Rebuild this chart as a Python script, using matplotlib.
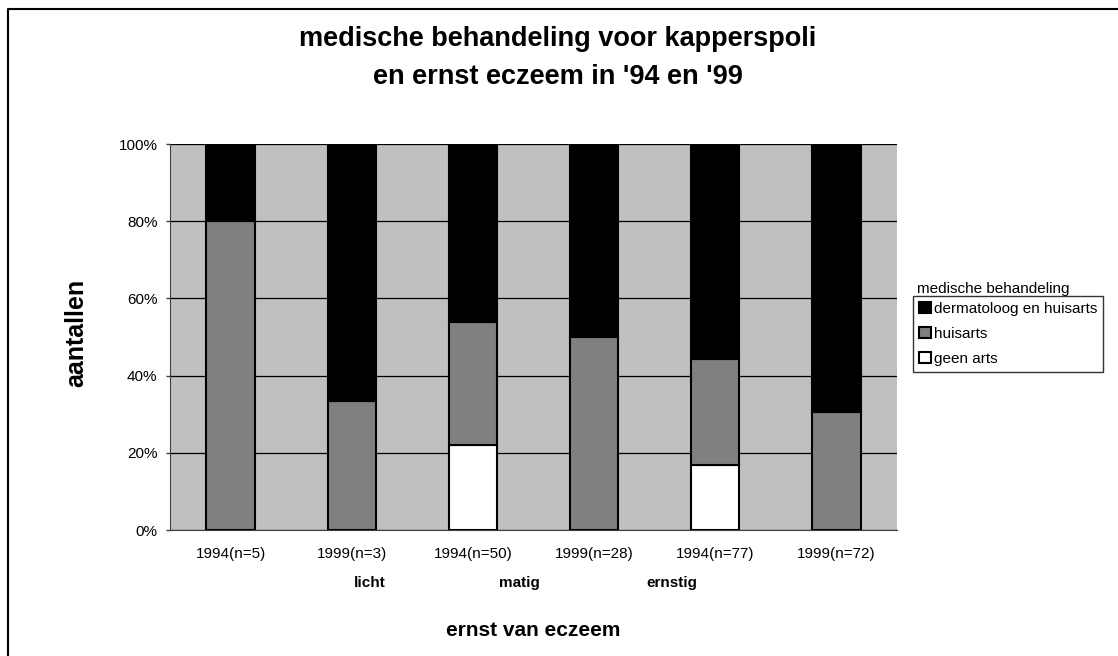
import numpy as np
import matplotlib.pyplot as plt
from matplotlib.lines import Line2D
from matplotlib.ticker import PercentFormatter

plt.rcParams['font.family'] = ['Liberation Sans', 'DejaVu Sans']

# data (percentages per bar)
categories = ["1994(n=5)", "1999(n=3)", "1994(n=50)", "1999(n=28)", "1994(n=77)", "1999(n=72)"]
groups = ["licht", "matig", "ernstig"]
geen_arts = [0, 0, 22.0, 0, 16.9, 0]
huisarts = [80.0, 33.3, 32.0, 50.0, 27.3, 30.6]
dermatoloog = [20.0, 66.7, 46.0, 50.0, 55.8, 69.4]

series = [("geen arts", geen_arts, "white"),
          ("huisarts", huisarts, "#808080"),
          ("dermatoloog en huisarts", dermatoloog, "black")]

fig = plt.figure(figsize=(11.18, 6.56), dpi=100)
ax = fig.add_axes([170 / 1118, 1 - 530 / 656, 727 / 1118, 386 / 656])
ax.set_facecolor("#C0C0C0")

x = np.arange(len(categories))
bottom = np.zeros(len(categories))
handles = {}
for name, vals, col in series:
    b = ax.bar(x, vals, width=0.4, bottom=bottom, color=col,
               edgecolor="black", linewidth=1.5, zorder=3, label=name)
    handles[name] = b
    bottom += np.array(vals)

ax.set_xlim(-0.5, len(categories) - 0.5)
ax.set_ylim(0, 100)
ax.set_yticks([0, 20, 40, 60, 80, 100])
ax.yaxis.set_major_formatter(PercentFormatter(decimals=0))
ax.grid(axis="y", color="black", linewidth=0.9, zorder=1)
ax.set_xticks(x)
ax.set_xticklabels(categories)
ax.tick_params(axis="x", length=0, pad=12, labelsize=11)
ax.tick_params(axis="y", length=3, width=1, pad=6, labelsize=11, color="#404040")

for s in ["top", "right"]:
    ax.spines[s].set_visible(False)
ax.spines["left"].set_color("#404040")
ax.spines["bottom"].set_color("#404040")

# group labels below tick labels (as placed in the original)
for g, gx in zip(groups, [370, 519, 672]):
    fig.text(gx / 1118, 1 - 583 / 656, g, ha="center", va="center",
             fontsize=11, fontweight="bold")

fig.text(558 / 1118, 1 - 58 / 656, "medische behandeling voor kapperspoli\nen ernst eczeem in '94 en '99",
         ha="center", va="center", fontsize=19.5, fontweight="bold", linespacing=1.55)
fig.text(533 / 1118, 1 - 630 / 656, "ernst van eczeem", ha="center", va="center",
         fontsize=15, fontweight="bold")
fig.text(76 / 1118, 1 - 333 / 656, "aantallen", ha="center", va="center",
         rotation=90, fontsize=18, fontweight="bold")

# legend, reversed order like the original
order = ["dermatoloog en huisarts", "huisarts", "geen arts"]
leg = fig.legend([handles[n] for n in order], order,
                 loc="upper left", bbox_to_anchor=(913 / 1118, 1 - 296 / 656),
                 bbox_transform=fig.transFigure, borderaxespad=0,
                 fontsize=11, frameon=True, fancybox=False, edgecolor="black",
                 handlelength=0.75, handleheight=0.75, handletextpad=0.2,
                 labelspacing=0.7, borderpad=0.4)
leg.get_frame().set_linewidth(1.0)
fig.text(917 / 1118, 1 - 289 / 656, "medische behandeling", ha="left", va="center", fontsize=11)

# outer chart frame (cut off at right and bottom)
fig.add_artist(Line2D([8 / 1118, 8 / 1118, 1.0], [0.0, 1 - 9 / 656, 1 - 9 / 656],
                      transform=fig.transFigure, color="black", linewidth=1.5))

fig.savefig("out.png", dpi=100)
